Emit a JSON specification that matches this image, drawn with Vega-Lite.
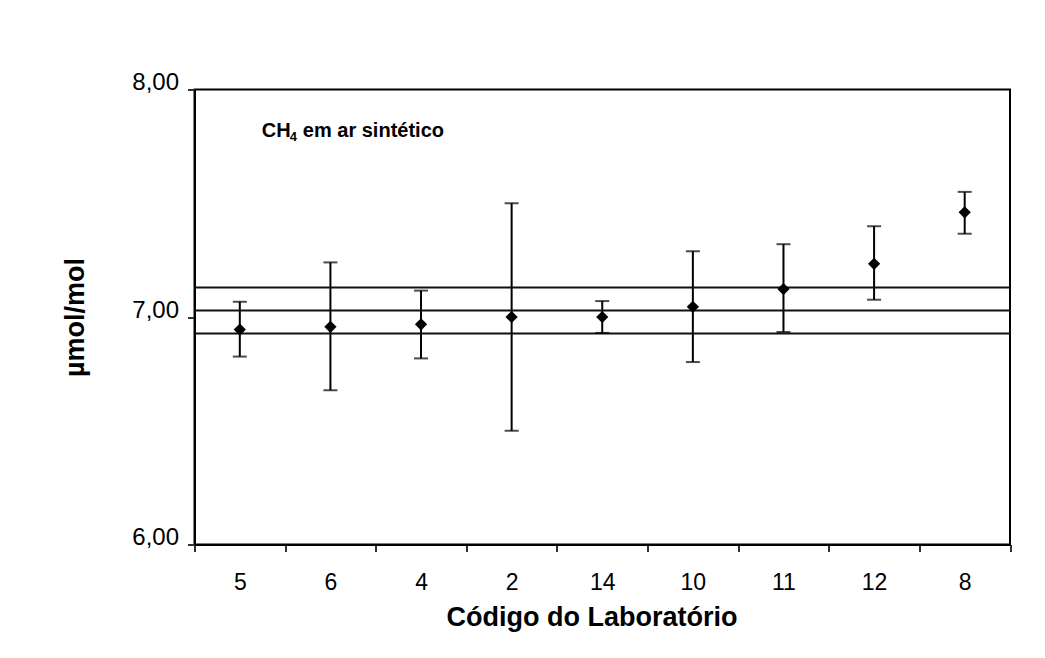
{
  "$schema": "https://vega.github.io/schema/vega-lite/v6.json",
  "autosize": "none",
  "width": 815.5,
  "height": 455,
  "padding": {"left": 194.5, "top": 89.5, "right": 35, "bottom": 113.5},
  "background": "white",
  "config": {
    "font": "Liberation Sans",
    "view": {"stroke": "black", "strokeWidth": 2},
    "axis": {"domainColor": "black", "domainWidth": 2, "tickColor": "#333", "tickWidth": 2, "tickSize": 7, "labelColor": "black", "titleColor": "black", "labelFont": "Liberation Sans", "titleFont": "Liberation Sans", "grid": false}
  },
  "datasets": {
    "labs": [
      {"lab": "5", "value": 6.945, "low": 6.826, "high": 7.067},
      {"lab": "6", "value": 6.957, "low": 6.678, "high": 7.240},
      {"lab": "4", "value": 6.968, "low": 6.818, "high": 7.116},
      {"lab": "2", "value": 7.000, "low": 6.500, "high": 7.500},
      {"lab": "14", "value": 7.000, "low": 6.930, "high": 7.070},
      {"lab": "10", "value": 7.045, "low": 6.802, "high": 7.289},
      {"lab": "11", "value": 7.123, "low": 6.934, "high": 7.320},
      {"lab": "12", "value": 7.234, "low": 7.076, "high": 7.399},
      {"lab": "8", "value": 7.460, "low": 7.366, "high": 7.550}
    ],
    "ref": [{"v": 6.928}, {"v": 7.029}, {"v": 7.130}],
    "note": [{"lab": "5", "y": 7.79}]
  },
  "layer": [
    {
      "data": {"name": "labs"},
      "mark": {"type": "rule", "color": "black", "strokeWidth": 2},
      "encoding": {
        "x": {
          "field": "lab", "type": "nominal", "sort": null,
          "scale": {"paddingInner": 0, "paddingOuter": 0},
          "axis": {"title": "Código do Laboratório", "labelAngle": 0, "labelFontSize": 23, "labelPadding": 20, "tickBand": "extent", "titleFontSize": 27, "titleFontWeight": "bold", "titlePadding": 10, "titleX": 397}
        },
        "y": {
          "field": "low", "type": "quantitative",
          "scale": {"domain": [6, 8], "nice": false, "zero": false},
          "axis": {"title": "µmol/mol", "values": [6, 7, 8], "labelExpr": "replace(format(datum.value, '.2f'), '.', ',')", "labelFontSize": 24, "labelPadding": 9, "labelOffset": -7, "titleFontSize": 27, "titleFontWeight": "bold", "titlePadding": 42}
        },
        "y2": {"field": "high"}
      }
    },
    {
      "data": {"name": "ref"},
      "mark": {"type": "rule", "color": "#111", "strokeWidth": 2},
      "encoding": {"y": {"field": "v", "type": "quantitative"}}
    },
    {
      "data": {"name": "labs"},
      "mark": {"type": "tick", "orient": "horizontal", "color": "black", "size": 14, "thickness": 2},
      "encoding": {"x": {"field": "lab", "type": "nominal", "sort": null}, "y": {"field": "low", "type": "quantitative"}}
    },
    {
      "data": {"name": "labs"},
      "mark": {"type": "tick", "orient": "horizontal", "color": "black", "size": 14, "thickness": 2},
      "encoding": {"x": {"field": "lab", "type": "nominal", "sort": null}, "y": {"field": "high", "type": "quantitative"}}
    },
    {
      "data": {"name": "labs"},
      "mark": {"type": "point", "shape": "diamond", "filled": true, "color": "black", "size": 150, "opacity": 1},
      "encoding": {"x": {"field": "lab", "type": "nominal", "sort": null}, "y": {"field": "value", "type": "quantitative"}}
    },
    {
      "data": {"name": "note"},
      "mark": {"type": "text", "align": "left", "baseline": "alphabetic", "fontSize": 20, "fontWeight": "bold", "color": "black", "dx": 22, "text": "CH"},
      "encoding": {"x": {"field": "lab", "type": "nominal", "sort": null}, "y": {"field": "y", "type": "quantitative"}}
    },
    {
      "data": {"name": "note"},
      "mark": {"type": "text", "align": "left", "baseline": "alphabetic", "fontSize": 13, "fontWeight": "bold", "color": "black", "dx": 50, "dy": 4, "text": "4"},
      "encoding": {"x": {"field": "lab", "type": "nominal", "sort": null}, "y": {"field": "y", "type": "quantitative"}}
    },
    {
      "data": {"name": "note"},
      "mark": {"type": "text", "align": "left", "baseline": "alphabetic", "fontSize": 20, "fontWeight": "bold", "color": "black", "dx": 63, "text": "em ar sintético"},
      "encoding": {"x": {"field": "lab", "type": "nominal", "sort": null}, "y": {"field": "y", "type": "quantitative"}}
    }
  ]
}
